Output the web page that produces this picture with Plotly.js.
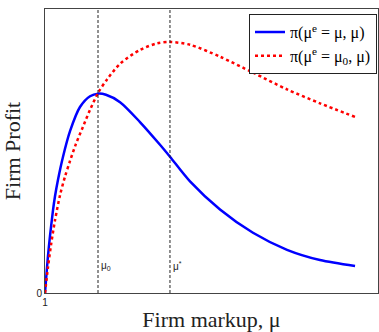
<!DOCTYPE html>
<html>
<head>
<meta charset="utf-8">
<script src="https://cdn.plot.ly/plotly-3.0.1.min.js"></script>
<style>html,body{margin:0;padding:0;overflow:hidden;background:#fff}</style>
</head>
<body>
<div id="chart" style="width:379px;height:332px"></div>
<script>
// Data
var blueMu = [1.000,1.028,1.047,1.075,1.094,1.123,1.170,1.236,1.330,1.425,1.500,1.575,1.708,1.896,2.085,2.179,2.368,2.651,2.962,3.283,3.594,3.925];
var blueProfit = [0,0.130,0.200,0.290,0.340,0.400,0.480,0.570,0.655,0.693,0.702,0.698,0.672,0.602,0.522,0.480,0.393,0.294,0.212,0.152,0.116,0.095];
var redMu = [1.000,1.028,1.057,1.094,1.142,1.189,1.236,1.292,1.358,1.425,1.500,1.585,1.708,1.896,2.057,2.179,2.368,2.651,2.962,3.283,3.594,3.925];
var redProfit = [0,0.090,0.170,0.255,0.345,0.410,0.465,0.525,0.585,0.645,0.704,0.752,0.807,0.856,0.879,0.884,0.874,0.832,0.776,0.717,0.668,0.620];
var markerMu = [1.5, 2.179];
var markerLabels = ['μ<sub>0</sub>', 'μ<sup>*</sup>'];
var xTickVals = [1], xTickText = ['1'];
var yTickVals = [0], yTickText = ['0'];
var xRange = [1, 4.1415], yRange = [0, 1];

var traces = [
  {x: blueMu, y: blueProfit, mode: 'lines', name: 'π(μ<sup>e</sup> = μ, μ)',
   line: {color: '#0000ff', width: 2.5, shape: 'spline', smoothing: 0.8}},
  {x: redMu, y: redProfit, mode: 'lines', name: 'π(μ<sup>e</sup> = μ<sub>0</sub>, μ)',
   line: {color: '#ff0000', width: 2.5, dash: 'dot', shape: 'spline', smoothing: 0.8}}
];
markerMu.forEach(function(m){
  traces.push({x: [m, m], y: yRange, mode: 'lines', showlegend: false, hoverinfo: 'skip',
    line: {color: '#222', width: 1, dash: '3px,2px'}});
});

var annotations = markerMu.map(function(m, i){
  return {x: m, y: 0.095, xref: 'x', yref: 'y', text: markerLabels[i], showarrow: false,
    xanchor: 'left', yanchor: 'middle', xshift: 1,
    font: {family: 'Liberation Sans, Arial, sans-serif', size: 10, color: '#222'}};
});

var layout = {
  width: 379, height: 332,
  margin: {l: 45, r: 1, t: 9, b: 39},
  paper_bgcolor: '#fff', plot_bgcolor: '#fff',
  showlegend: true,
  legend: {x: 0.997, y: 0.982, xanchor: 'right', yanchor: 'top',
    bordercolor: '#222', borderwidth: 1, bgcolor: '#fff',
    font: {family: 'Liberation Serif, DejaVu Serif, serif', size: 16, color: '#000'},
    tracegroupgap: 0, itemwidth: 30},
  xaxis: {range: xRange, tickvals: xTickVals, ticktext: xTickText, ticks: '',
    showgrid: false, zeroline: false, showline: true, mirror: true, linecolor: '#444', linewidth: 1,
    tickfont: {family: 'Liberation Sans, Arial, sans-serif', size: 10, color: '#222'},
    title: {text: 'Firm markup, μ', standoff: 6,
      font: {family: 'Liberation Serif, DejaVu Serif, serif', size: 22, color: '#222'}}},
  yaxis: {range: yRange, tickvals: yTickVals, ticktext: yTickText, ticks: '',
    showgrid: false, zeroline: false, showline: true, mirror: true, linecolor: '#444', linewidth: 1,
    tickfont: {family: 'Liberation Sans, Arial, sans-serif', size: 10, color: '#222'},
    title: {text: 'Firm Profit', standoff: 10,
      font: {family: 'Liberation Serif, DejaVu Serif, serif', size: 22, color: '#222'}}},
  annotations: annotations
};

Plotly.newPlot('chart', traces, layout, {displayModeBar: false, staticPlot: true});
</script>
</body>
</html>
